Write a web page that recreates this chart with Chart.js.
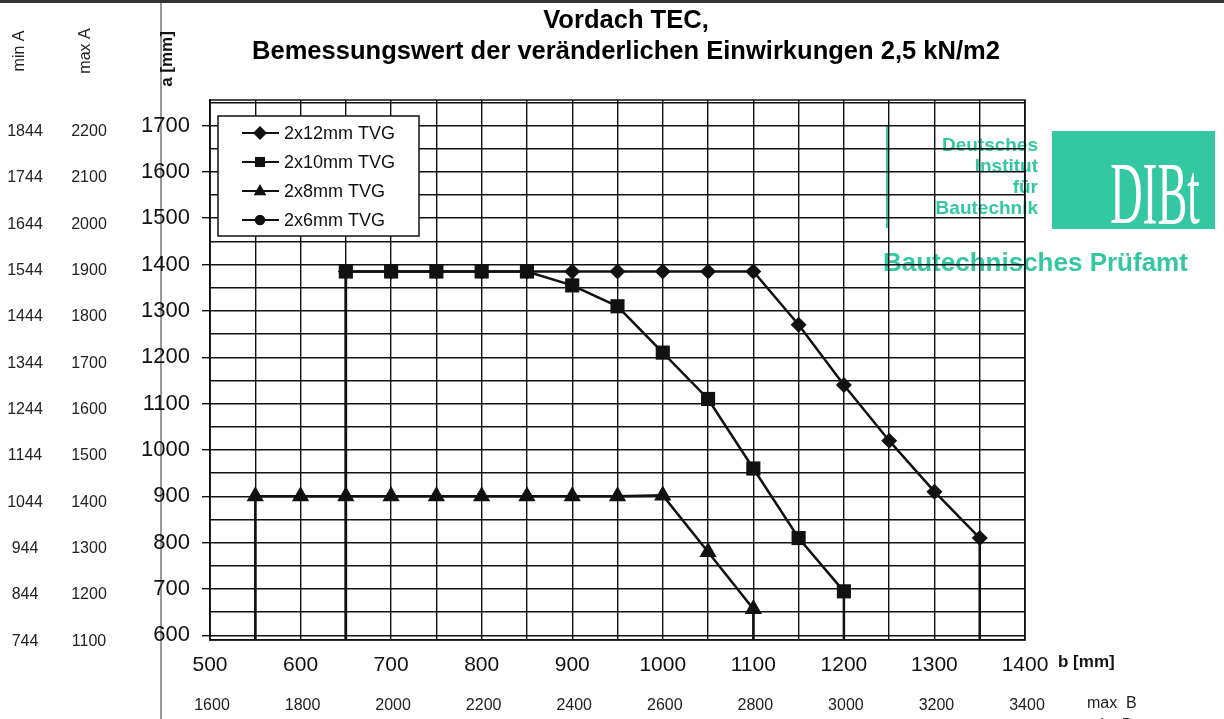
<!DOCTYPE html>
<html>
<head>
<meta charset="utf-8">
<script src="https://cdn.jsdelivr.net/npm/chart.js@4/dist/chart.umd.min.js"></script>
<style>
    html, body { margin: 0; padding: 0; background: #fff; }
    #wrap { position: relative; width: 1224px; height: 719px; }
</style>
</head>
<body>
<div id="wrap"><canvas id="chart"></canvas></div>
<script>
// b [mm] / a [mm] pairs; 590 is where the drop lines hit the bottom edge
const b12 = [650, 650, 700, 750, 800, 850, 900, 950, 1000, 1050, 1100, 1150, 1200, 1250, 1300, 1350, 1350];
const a12 = [590, 1385, 1385, 1385, 1385, 1385, 1385, 1385, 1385, 1385, 1385, 1270, 1140, 1020, 910, 810, 590];
const b10 = [650, 650, 700, 750, 800, 850, 900, 950, 1000, 1050, 1100, 1150, 1200, 1200];
const a10 = [590, 1385, 1385, 1385, 1385, 1385, 1355, 1310, 1210, 1110, 960, 810, 695, 590];
const b8 = [550, 550, 600, 650, 700, 750, 800, 850, 900, 950, 1000, 1050, 1100, 1100];
const a8 = [590, 900, 900, 900, 900, 900, 900, 900, 900, 900, 902, 780, 657, 590];
const b6 = [];
const a6 = [];

const seriesNames = ['2x12mm TVG', '2x10mm TVG', '2x8mm TVG', '2x6mm TVG'];

const aTicks = [600, 650, 700, 750, 800, 850, 900, 950, 1000, 1050, 1100, 1150, 1200, 1250, 1300, 1350, 1400, 1450, 1500, 1550, 1600, 1650, 1700, 1750];
const aLabels = [600, 700, 800, 900, 1000, 1100, 1200, 1300, 1400, 1500, 1600, 1700];
const bTicks = [500, 550, 600, 650, 700, 750, 800, 850, 900, 950, 1000, 1050, 1100, 1150, 1200, 1250, 1300, 1350, 1400];
const bLabels = [500, 600, 700, 800, 900, 1000, 1100, 1200, 1300, 1400];

const minA = [1844, 1744, 1644, 1544, 1444, 1344, 1244, 1144, 1044, 944, 844, 744];
const maxA = [2200, 2100, 2000, 1900, 1800, 1700, 1600, 1500, 1400, 1300, 1200, 1100];
const maxB = [1600, 1800, 2000, 2200, 2400, 2600, 2800, 3000, 3200, 3400];
const minB = [1150, 1350, 1550, 1750, 1950, 2150, 2350, 2550, 2750, 2950];

const A_MIN = 590;
const A_MAX = 1755;
const INK = '#111';
const TEAL = '#33c7a2';
const FONT = '"Liberation Sans", Arial, sans-serif';

const pts = (xs, ys) => xs.map((x, i) => ({ x: x, y: ys[i] }));
const hideDrop = r => ctx => (ctx.raw && ctx.raw.y === A_MIN) ? 0 : r;

function marker(ctx, style, x, y, r) {
    ctx.beginPath();
    if (style === 'rectRot') {
        ctx.moveTo(x, y - r); ctx.lineTo(x + r, y); ctx.lineTo(x, y + r); ctx.lineTo(x - r, y);
    } else if (style === 'rect') {
        ctx.rect(x - r * 0.72, y - r * 0.72, r * 1.44, r * 1.44);
    } else if (style === 'triangle') {
        ctx.moveTo(x, y - r); ctx.lineTo(x + r * 0.9, y + r * 0.6); ctx.lineTo(x - r * 0.9, y + r * 0.6);
    } else {
        ctx.arc(x, y, r * 0.75, 0, Math.PI * 2);
    }
    ctx.closePath();
    ctx.fill();
}

const extras = {
    id: 'extras',
    beforeDraw(chart) {
        const { ctx } = chart;
        ctx.save();
        ctx.fillStyle = '#fff';
        ctx.fillRect(0, 0, chart.width, chart.height);

        // scan edge and page fold
        ctx.fillStyle = '#333';
        ctx.fillRect(0, 0, chart.width, 3);
        ctx.strokeStyle = '#999';
        ctx.lineWidth = 2;
        ctx.beginPath(); ctx.moveTo(161, 3); ctx.lineTo(161, chart.height); ctx.stroke();

        // DIBt stamp
        ctx.fillStyle = TEAL;
        ctx.fillRect(886, 125, 3, 103);
        ctx.font = 'bold 19px ' + FONT;
        ctx.textAlign = 'right';
        ctx.textBaseline = 'middle';
        ['Deutsches', 'Institut', 'für', 'Bautechnik'].forEach((t, i) => ctx.fillText(t, 1038, 146 + i * 21));
        ctx.fillRect(1052, 131, 163, 98);
        ctx.font = 'bold 26px ' + FONT;
        ctx.textAlign = 'left';
        ctx.fillText('Bautechnisches Prüfamt', 883, 264);

        ctx.save();
        ctx.fillStyle = '#fff';
        ctx.translate(1155, 200);
        ctx.scale(0.56, 1.1);
        ctx.font = '80px "Liberation Serif", serif';
        ctx.textAlign = 'center';
        ctx.fillText('DIBt', 0, 0);
        ctx.restore();
        ctx.restore();
    },
    afterDatasetsDraw(chart) {
        const { ctx, chartArea: ca } = chart;
        ctx.save();
        // frame
        ctx.strokeStyle = INK;
        ctx.lineWidth = 1.5;
        ctx.strokeRect(ca.left, ca.top, ca.right - ca.left, ca.bottom - ca.top);

        // legend box
        const lx = 218, ly = 116, lw = 201, lh = 120;
        ctx.fillStyle = '#fff';
        ctx.fillRect(lx, ly, lw, lh);
        ctx.strokeRect(lx, ly, lw, lh);
        ctx.font = '18px ' + FONT;
        ctx.textAlign = 'left';
        ctx.textBaseline = 'middle';
        chart.data.datasets.forEach((ds, i) => {
            const y = 133 + i * 29;
            ctx.strokeStyle = INK;
            ctx.lineWidth = 2.2;
            ctx.beginPath(); ctx.moveTo(242, y); ctx.lineTo(279, y); ctx.stroke();
            ctx.fillStyle = INK;
            marker(ctx, ds.pointStyle, 260, y, 7);
            ctx.fillText(ds.label, 284, y + 1);
        });
        ctx.restore();
    },
    afterDraw(chart) {
        const { ctx } = chart;
        const xs = chart.scales.x, ys = chart.scales.y;
        ctx.save();
        ctx.fillStyle = '#222';
        ctx.textBaseline = 'middle';

        // title, fitted to the width it has on the scan
        ctx.save();
        ctx.fillStyle = '#000';
        ctx.font = 'bold 25px ' + FONT;
        ctx.textAlign = 'center';
        const sub = 'Bemessungswert der veränderlichen Einwirkungen 2,5 kN/m2';
        const k = 748 / ctx.measureText(sub).width;
        ctx.translate(626, 0);
        ctx.scale(k, 1);
        ctx.fillText('Vordach TEC,', 0, 21);
        ctx.fillText(sub, 0, 52);
        ctx.restore();

        // side columns min A / max A
        ctx.font = '16px ' + FONT;
        ctx.textAlign = 'center';
        aLabels.slice().reverse().forEach((v, i) => {
            const y = ys.getPixelForValue(v) + 6;
            ctx.fillText(String(minA[i]), 25, y);
            ctx.fillText(String(maxA[i]), 89, y);
        });
        [['min A', 20], ['max A', 86]].forEach(([t, x]) => {
            ctx.save();
            ctx.translate(x, 51);
            ctx.rotate(-Math.PI / 2);
            ctx.fillText(t, 0, 0);
            ctx.restore();
        });

        // bottom rows max B / min B
        bLabels.forEach((v, i) => {
            const x = xs.getPixelForValue(v);
            ctx.fillText(String(maxB[i]), x + 2, 706);
            ctx.fillText(String(minB[i]), x + 2, 727);
        });
        ctx.textAlign = 'left';
        ctx.fillText('max  B', 1087, 704);
        ctx.fillText('min  B', 1087, 726);

        // axis titles
        ctx.font = 'bold 17px ' + FONT;
        ctx.fillStyle = INK;
        ctx.fillText('b [mm]', 1058, 662);
        ctx.save();
        ctx.translate(167, 59);
        ctx.rotate(-Math.PI / 2);
        ctx.textAlign = 'center';
        ctx.fillText('a [mm]', 0, 0);
        ctx.restore();
        ctx.restore();
    }
};

const line = (label, data, style, r, order) => ({
    label: label,
    data: data,
    borderColor: INK,
    backgroundColor: INK,
    borderWidth: 2.5,
    pointStyle: style,
    pointRadius: hideDrop(r),
    pointHoverRadius: hideDrop(r),
    pointBorderWidth: 0,
    tension: 0,
    order: order
});

new Chart(document.getElementById('chart').getContext('2d'), {
    type: 'line',
    data: {
        datasets: [
            line(seriesNames[0], pts(b12, a12), 'rectRot', 8, 2),
            line(seriesNames[1], pts(b10, a10), 'rect', 10, 1),
            line(seriesNames[2], pts(b8, a8), 'triangle', 10, 3),
            line(seriesNames[3], pts(b6, a6), 'circle', 7, 4)
        ]
    },
    options: {
        responsive: true,
        maintainAspectRatio: false,
        animation: false,
        layout: { padding: { left: 135, right: 199, top: 100, bottom: 34 } },
        plugins: {
            legend: { display: false },
            title: { display: false },
            tooltip: { enabled: false }
        },
        scales: {
            x: {
                type: 'linear',
                min: 500,
                max: 1400,
                afterBuildTicks: s => { s.ticks = bTicks.map(v => ({ value: v })); },
                afterFit: s => { s.height = 45; },
                ticks: {
                    autoSkip: false,
                    maxRotation: 0,
                    padding: 13,
                    color: INK,
                    font: { family: FONT, size: 21 },
                    callback: v => bLabels.includes(v) ? v : ''
                },
                grid: { color: INK, lineWidth: 1.4, drawTicks: false },
                border: { color: INK, width: 1.5 }
            },
            y: {
                type: 'linear',
                min: A_MIN,
                max: A_MAX,
                afterBuildTicks: s => { s.ticks = aTicks.map(v => ({ value: v })); },
                afterFit: s => { s.width = 75; },
                ticks: {
                    autoSkip: false,
                    padding: 12,
                    color: INK,
                    font: { family: FONT, size: 22 },
                    callback: v => aLabels.includes(v) ? v : ''
                },
                grid: {
                    color: INK,
                    lineWidth: 1.4,
                    tickLength: 8,
                    tickColor: c => (c.tick && aLabels.includes(c.tick.value)) ? INK : 'rgba(0,0,0,0)'
                },
                border: { color: INK, width: 1.5 }
            }
        }
    },
    plugins: [extras]
});
</script>
</body>
</html>
